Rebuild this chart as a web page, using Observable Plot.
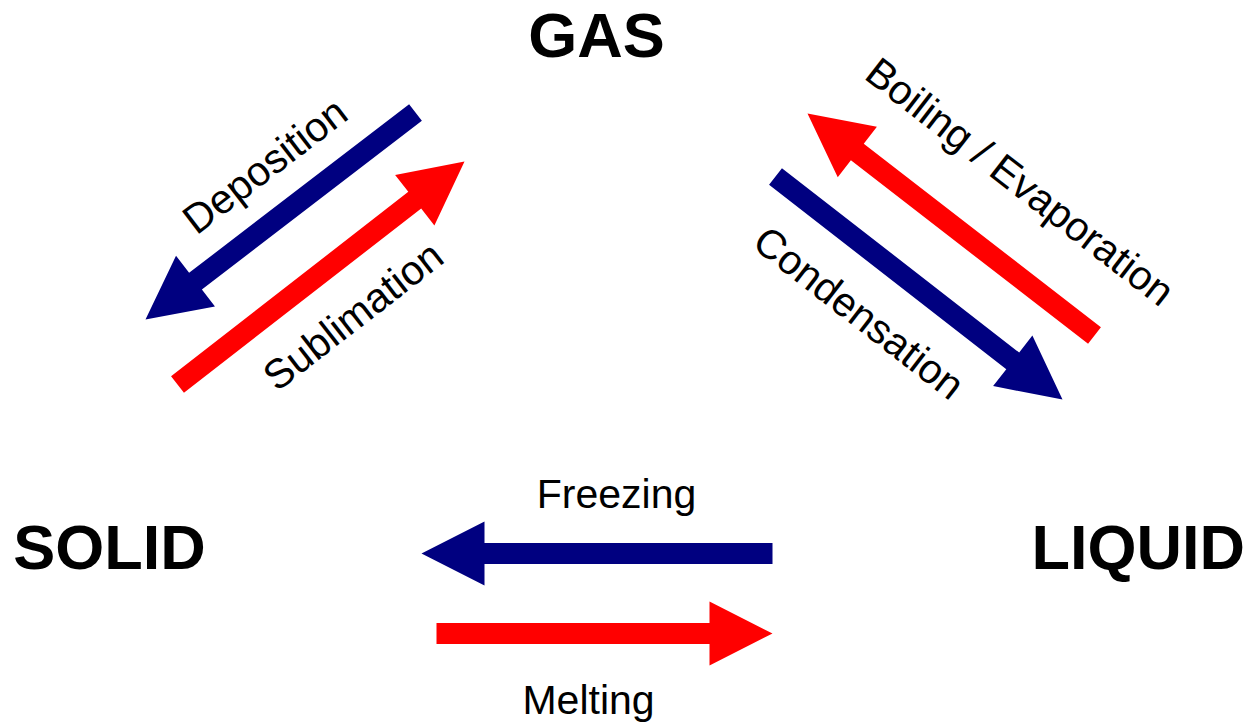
<!DOCTYPE html>
<html>
<head>
<meta charset="utf-8">
<script src="https://cdn.jsdelivr.net/npm/d3@7"></script>
<script src="https://cdn.jsdelivr.net/npm/@observablehq/plot@0.6"></script>
<style>
  html, body { margin: 0; padding: 0; background: #ffffff; }
  #chart svg { display: block; }
</style>
</head>
<body>
<div id="chart"></div>
<script>
// ---- Data ----
const phaseNames = ["GAS", "SOLID", "LIQUID"];
const phaseX = [596, 109, 1031];
const phaseY = [36, 548, 548];
const phaseAnchor = ["middle", "middle", "start"];

const transitionNames = ["Deposition", "Sublimation", "Boiling / Evaporation", "Condensation", "Freezing", "Melting"];
const transitionKind = ["cooling", "heating", "heating", "cooling", "cooling", "heating"];
const tailX = [415, 177, 1094, 775, 772, 436];
const tailY = [112, 384, 335, 176, 553, 633];
const tipX  = [145, 464, 807, 1062, 421, 772];
const tipY  = [319, 161, 113, 399, 553, 633];

const labelX = [265, 353, 1019, 858, 616, 588];
const labelY = [166, 316, 182, 313, 494, 700];

// ---- Styles ----
const kindColor = {cooling: "#000080", heating: "#ff0000"};
const shaftW = 21, headL = 63, headHalf = 32;

// Build arrow polygons from tail/tip data
const arrowPts = [];
transitionNames.forEach((name, i) => {
  const tx = tailX[i], ty = tailY[i], px = tipX[i], py = tipY[i];
  const len = Math.hypot(px - tx, py - ty);
  const ux = (px - tx) / len, uy = (py - ty) / len;
  const nx = -uy, ny = ux;
  const bx = px - headL * ux, by = py - headL * uy;
  const poly = [
    [tx + nx * shaftW / 2, ty + ny * shaftW / 2],
    [bx + nx * shaftW / 2, by + ny * shaftW / 2],
    [bx + nx * headHalf, by + ny * headHalf],
    [px, py],
    [bx - nx * headHalf, by - ny * headHalf],
    [bx - nx * shaftW / 2, by - ny * shaftW / 2],
    [tx - nx * shaftW / 2, ty - ny * shaftW / 2]
  ];
  poly.forEach(([x, y], k) => arrowPts.push({name, k, x, y, color: kindColor[transitionKind[i]]}));
});

// Label angle along each arrow, kept readable (left to right)
const labels = transitionNames.map((name, i) => {
  let dx = tipX[i] - tailX[i], dy = tipY[i] - tailY[i];
  if (dx < 0) { dx = -dx; dy = -dy; }
  return {name, x: labelX[i], y: labelY[i], rotate: Math.atan2(dy, dx) * 180 / Math.PI};
});

const phases = phaseNames.map((name, i) => ({name, x: phaseX[i], y: phaseY[i], anchor: phaseAnchor[i]}));

const marks = [];
transitionNames.forEach((name) => {
  const pts = arrowPts.filter(d => d.name === name);
  marks.push(Plot.line(pts, {x: "x", y: "y", curve: "linear-closed", fill: pts[0].color, stroke: "none"}));
});
marks.push(Plot.text(labels, {x: "x", y: "y", text: "name", rotate: "rotate", fontSize: 41, fill: "#000", textAnchor: "middle"}));
["middle", "start"].forEach(anchor => {
  marks.push(Plot.text(phases.filter(d => d.anchor === anchor), {x: "x", y: "y", text: "name", fontSize: 63, fontWeight: "bold", fill: "#000", textAnchor: anchor}));
});

const chart = Plot.plot({
  width: 1250,
  height: 725,
  margin: 0,
  style: {fontFamily: "'Liberation Sans', Arial, sans-serif", background: "#ffffff", color: "#000"},
  x: {domain: [0, 1250], range: [0, 1250], axis: null},
  y: {domain: [0, 725], range: [0, 725], axis: null},
  marks
});
document.getElementById("chart").appendChild(chart);
</script>
</body>
</html>
